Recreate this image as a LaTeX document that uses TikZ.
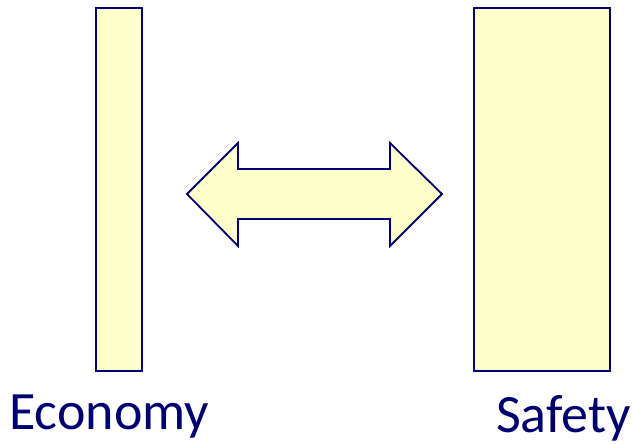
\documentclass[tikz,border=0pt]{standalone}
\usepackage{fontspec}
\setmainfont{Carlito}
\usetikzlibrary{positioning,calc}
\definecolor{Ink}{RGB}{0,0,110}
\definecolor{Pale}{RGB}{255,255,204}

\begin{document}
\begin{tikzpicture}[x=1pt,y=-1pt,
 bar/.style={draw=Ink,fill=Pale,line width=1.8pt},
 lbl/.style={text=Ink,inner sep=0pt,anchor=base west,font=\fontsize{54}{60}\selectfont}]
\useasboundingbox (0,0) rectangle (633,444);
\draw[bar] (96,8) rectangle (142,371);
\draw[bar] (474,8) rectangle (610,371);
\draw[bar,line join=miter] (187,194)--(238,143)--(238,169)--(390,169)--(390,143)--(442,194)
 --(390,246)--(390,219)--(238,219)--(238,246)--cycle;
\node[lbl] (econ) at (9,429) {Economy};
\node[lbl] (safe) at (496,432) {Safety};
\end{tikzpicture}
\end{document}
